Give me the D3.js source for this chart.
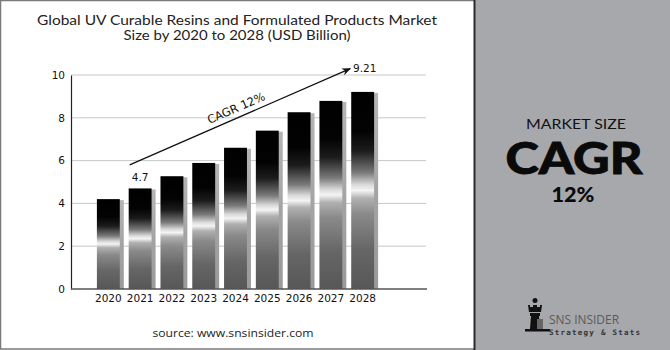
<!DOCTYPE html>
<html>
<head>
<meta charset="utf-8">
<script src="https://cdn.jsdelivr.net/npm/d3@7"></script>
<style>
  html, body { margin: 0; padding: 0; background: #fff; }
  svg { display: block; }
</style>
</head>
<body>
<svg id="chart" width="670" height="350"></svg>
<script>
// Market size by year (USD Billion)
const years = ["2020", "2021", "2022", "2023", "2024", "2025", "2026", "2027", "2028"];
const marketSize = [4.2, 4.7, 5.27, 5.89, 6.6, 7.4, 8.26, 8.79, 9.21];
const yTicks = [0, 2, 4, 6, 8, 10];
const titleLines = ["Global UV Curable Resins and Formulated Products Market", "Size by 2020 to 2028 (USD Billion)"];
const titleWidths = [400, 227];
const cagrLabel = "CAGR  12%";
const labelledYears = ["2021", "2028"];

const svg = d3.select("#chart");
const W = 670, H = 350;

// outer frame
svg.append("rect").attr("x", 0.5).attr("y", 0.5).attr("width", W - 1).attr("height", H - 1.5)
  .attr("fill", "#fff").attr("stroke", "#7a7a7a").attr("stroke-width", 1.5);

// right info panel
svg.append("rect").attr("x", 474).attr("y", 0).attr("width", W - 474).attr("height", H)
  .attr("fill", "#a7a8ac");
svg.append("line").attr("x1", 474.5).attr("x2", 474.5).attr("y1", 0).attr("y2", H)
  .attr("stroke", "#2a2a2a").attr("stroke-width", 2);

// title (two lines in one text block)
const title = svg.append("text").attr("text-anchor", "middle")
  .attr("font-family", "Lato, 'Open Sans', sans-serif").attr("font-size", 13.4).attr("fill", "#222");
titleLines.forEach((t, i) => {
  title.append("tspan").attr("x", 237).attr("y", 25 + i * 15)
    .attr("textLength", titleWidths[i]).attr("lengthAdjust", "spacingAndGlyphs").text(t);
});

// scales
const x = d3.scaleBand().domain(years).range([81, 390]).paddingInner(0.28).paddingOuter(0.5);
const y = d3.scaleLinear().domain([0, 10]).range([289, 75]);

// gridlines
svg.append("g").selectAll("line").data(yTicks.filter(d => d > 0)).join("line")
  .attr("x1", 71).attr("x2", 426).attr("y1", d => y(d)).attr("y2", d => y(d))
  .attr("stroke", "#c8c8c8").attr("stroke-width", 1);

// y axis
const yAxis = svg.append("g").attr("transform", "translate(71,0)")
  .call(d3.axisLeft(y).tickValues(yTicks).tickSize(0).tickPadding(6));
yAxis.select(".domain").attr("stroke", "#222").attr("stroke-width", 1.2);
yAxis.selectAll("text").attr("font-family", "'DejaVu Sans', sans-serif").attr("font-size", 10.5).attr("fill", "#111");

// bar shading
const defs = svg.append("defs");
const grad = defs.append("linearGradient").attr("id", "barShade")
  .attr("x1", 0).attr("y1", 0).attr("x2", 0).attr("y2", 1);
[[0, "#000"], [0.2, "#030303"], [0.3, "#1c1c1c"], [0.41, "#7a7a7a"], [0.47, "#d8d8d8"], [0.5, "#f4f4f4"],
 [0.54, "#b0b0b0"], [0.62, "#8a8a8a"], [0.8, "#666"], [1, "#575757"]]
  .forEach(([o, c]) => grad.append("stop").attr("offset", o).attr("stop-color", c));
const shadowGrad = defs.append("linearGradient").attr("id", "shadowShade")
  .attr("x1", 0).attr("y1", 0).attr("x2", 0).attr("y2", 1);
[[0, "#b4b4b4"], [0.5, "#a4a4a4"], [1, "#9a9a9a"]]
  .forEach(([o, c]) => shadowGrad.append("stop").attr("offset", o).attr("stop-color", c));

const data = years.map((yr, i) => ({ year: yr, value: marketSize[i] }));
const bars = svg.append("g");
bars.selectAll(".shadow").data(data).join("rect").attr("class", "shadow")
  .attr("x", d => x(d.year) + 4).attr("y", d => y(d.value) + 1)
  .attr("width", x.bandwidth()).attr("height", d => y(0) - y(d.value) - 1)
  .attr("fill", "url(#shadowShade)");
bars.selectAll(".bar").data(data).join("rect").attr("class", "bar")
  .attr("x", d => x(d.year)).attr("y", d => y(d.value))
  .attr("width", x.bandwidth()).attr("height", d => y(0) - y(d.value))
  .attr("fill", "url(#barShade)");

// x axis baseline and labels
svg.append("line").attr("x1", 71).attr("x2", 427).attr("y1", y(0)).attr("y2", y(0))
  .attr("stroke", "#555").attr("stroke-width", 1.5);
const xAxis = svg.append("g").attr("transform", `translate(0,${y(0)})`)
  .call(d3.axisBottom(x).tickSize(0).tickPadding(6));
xAxis.select(".domain").remove();
xAxis.selectAll("text").attr("font-family", "'DejaVu Sans', sans-serif").attr("font-size", 10.5).attr("fill", "#111");

// value labels
svg.append("g").selectAll("text").data(data.filter(d => labelledYears.includes(d.year))).join("text")
  .attr("x", d => x(d.year) + x.bandwidth() / 2 + (d.year === "2028" ? 2 : 0))
  .attr("y", d => d.year === "2028" ? y(d.value) - 20 : y(d.value) - 7)
  .attr("text-anchor", "middle").attr("font-family", "'DejaVu Sans', sans-serif")
  .attr("font-size", 10.5).attr("fill", "#111").text(d => d.value);

// growth arrow
defs.append("marker").attr("id", "arrowHead").attr("viewBox", "0 0 10 10")
  .attr("refX", 9).attr("refY", 5).attr("markerWidth", 7).attr("markerHeight", 7)
  .attr("orient", "auto").append("path").attr("d", "M0,1 L10,5 L0,9 L3,5 Z").attr("fill", "#111");
const a0 = [x("2021") + 1, y(5.8)], a1 = [x("2028") - 1, y(10.3)];
svg.append("line").attr("x1", a0[0]).attr("y1", a0[1]).attr("x2", a1[0]).attr("y2", a1[1])
  .attr("stroke", "#111").attr("stroke-width", 1.3).attr("marker-end", "url(#arrowHead)");
const ang = Math.atan2(a1[1] - a0[1], a1[0] - a0[0]) * 180 / Math.PI;
const mid = [a0[0] + (a1[0] - a0[0]) * 0.49, a0[1] + (a1[1] - a0[1]) * 0.49];
svg.append("text").attr("transform", `translate(${mid[0]},${mid[1] - 6}) rotate(${ang})`)
  .attr("text-anchor", "middle").attr("font-family", "'DejaVu Sans', sans-serif")
  .attr("font-size", 11.5).attr("fill", "#111").text(cagrLabel);

// source
svg.append("text").attr("x", 233).attr("y", 337).attr("text-anchor", "middle")
  .attr("font-family", "'Open Sans', Lato, sans-serif").attr("font-size", 11.5).attr("fill", "#222")
  .attr("textLength", 161).attr("lengthAdjust", "spacingAndGlyphs")
  .text("source: www.snsinsider.com");

// panel text
const panelX = 576;
svg.append("text").attr("x", panelX).attr("y", 129).attr("text-anchor", "middle")
  .attr("font-family", "Lato, 'Open Sans', sans-serif").attr("font-size", 13).attr("fill", "#111")
  .attr("textLength", 100).attr("lengthAdjust", "spacingAndGlyphs").text("MARKET SIZE");
svg.append("text").attr("x", panelX - 2).attr("y", 174).attr("text-anchor", "middle")
  .attr("font-family", "Lato, 'Open Sans', sans-serif").attr("font-weight", 900).attr("font-size", 43)
  .attr("fill", "#0a0a0a").attr("stroke", "#0a0a0a").attr("stroke-width", 0.8)
  .attr("textLength", 137).attr("lengthAdjust", "spacingAndGlyphs").text("CAGR");
svg.append("text").attr("x", panelX - 3).attr("y", 202).attr("text-anchor", "middle")
  .attr("font-family", "Lato, 'Open Sans', sans-serif").attr("font-weight", 900).attr("font-size", 21)
  .attr("fill", "#0a0a0a").attr("textLength", 43).attr("lengthAdjust", "spacingAndGlyphs").text("12%");

// logo
const logo = svg.append("g").attr("transform", "translate(525,298)");
logo.append("circle").attr("cx", 10).attr("cy", 2.5).attr("r", 2.5).attr("fill", "#111");
logo.append("path").attr("d", "M3,7 L5,7 L5,9 L8,9 L8,7 L12,7 L12,9 L15,9 L15,7 L17,7 L16,14 L4,14 Z").attr("fill", "#111");
logo.append("rect").attr("x", 5).attr("y", 15).attr("width", 10).attr("height", 3).attr("fill", "#111");
logo.append("path").attr("d", "M6,18 L14,18 L15,31 L5,31 Z").attr("fill", "#111");
logo.append("rect").attr("x", 12).attr("y", 21).attr("width", 6).attr("height", 10).attr("fill", "#666");
logo.append("rect").attr("x", 0).attr("y", 31).attr("width", 25).attr("height", 2.5).attr("fill", "#111");
svg.append("text").attr("x", 549).attr("y", 324).attr("font-family", "'Open Sans', sans-serif")
  .attr("font-size", 13).attr("fill", "#5a5a5a").attr("textLength", 70)
  .attr("lengthAdjust", "spacingAndGlyphs").text("SNS INSIDER");
svg.append("text").attr("x", 549).attr("y", 335).attr("font-family", "'DejaVu Sans Mono', monospace")
  .attr("font-size", 7.5).attr("font-weight", "bold").attr("fill", "#333").attr("textLength", 91)
  .text("Strategy & Stats");
</script>
</body>
</html>
